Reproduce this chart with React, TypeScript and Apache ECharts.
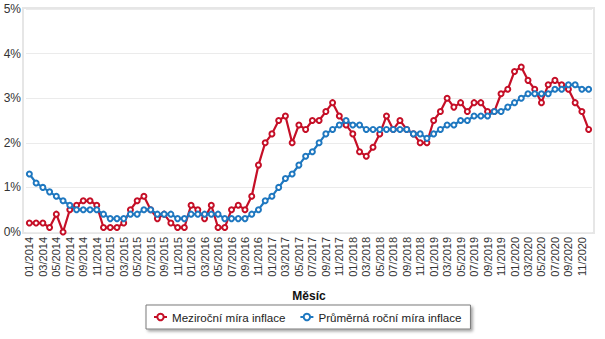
import React, { useEffect, useRef } from "react";
import * as echarts from "echarts";

const years = [2014, 2015, 2016, 2017, 2018, 2019, 2020];
const months = ["01", "02", "03", "04", "05", "06", "07", "08", "09", "10", "11", "12"];
const categories: string[] = [];
years.forEach((y) => months.forEach((m) => categories.push(`${m}/${y}`)));

const yoyInflation = [
  0.2, 0.2, 0.2, 0.1, 0.4, 0.0, 0.5, 0.6, 0.7, 0.7, 0.6, 0.1,
  0.1, 0.1, 0.2, 0.5, 0.7, 0.8, 0.5, 0.3, 0.4, 0.2, 0.1, 0.1,
  0.6, 0.5, 0.3, 0.6, 0.1, 0.1, 0.5, 0.6, 0.5, 0.8, 1.5, 2.0,
  2.2, 2.5, 2.6, 2.0, 2.4, 2.3, 2.5, 2.5, 2.7, 2.9, 2.6, 2.4,
  2.2, 1.8, 1.7, 1.9, 2.2, 2.6, 2.3, 2.5, 2.3, 2.2, 2.0, 2.0,
  2.5, 2.7, 3.0, 2.8, 2.9, 2.7, 2.9, 2.9, 2.7, 2.7, 3.1, 3.2,
  3.6, 3.7, 3.4, 3.2, 2.9, 3.3, 3.4, 3.3, 3.2, 2.9, 2.7, 2.3,
];

const avgInflation = [
  1.3, 1.1, 1.0, 0.9, 0.8, 0.7, 0.6, 0.5, 0.5, 0.5, 0.5, 0.4,
  0.3, 0.3, 0.3, 0.4, 0.4, 0.5, 0.5, 0.4, 0.4, 0.4, 0.3, 0.3,
  0.4, 0.4, 0.4, 0.4, 0.4, 0.3, 0.3, 0.3, 0.3, 0.4, 0.5, 0.7,
  0.8, 1.0, 1.2, 1.3, 1.5, 1.7, 1.8, 2.0, 2.2, 2.3, 2.4, 2.5,
  2.4, 2.4, 2.3, 2.3, 2.3, 2.3, 2.3, 2.3, 2.3, 2.2, 2.2, 2.1,
  2.2, 2.3, 2.4, 2.4, 2.5, 2.5, 2.6, 2.6, 2.6, 2.7, 2.7, 2.8,
  2.9, 3.0, 3.1, 3.1, 3.1, 3.1, 3.2, 3.2, 3.3, 3.3, 3.2, 3.2,
];

const seriesNames = ["Meziroční míra inflace", "Průměrná roční míra inflace"];
const xAxisName = "Měsíc";

const RED = "#c50f27";
const BLUE = "#1f78c0";
const FONT = "'Liberation Sans', Arial, sans-serif";

export default function App() {
  const ref = useRef<HTMLDivElement>(null);
  useEffect(() => {
    if (!ref.current) return;
    const chart = echarts.init(ref.current, null, { renderer: "svg" });
    chart.setOption({
      animation: false,
      backgroundColor: "#fff",
      textStyle: { fontFamily: FONT },
      graphic: [
        {
          type: "rect",
          z: -10,
          silent: true,
          shape: { x: 23, y: 8, width: 571, height: 225 },
          style: { fill: "none", stroke: "#e6e6e6", lineWidth: 2 },
        },
      ],
      grid: { left: 26, right: 13, top: 9, bottom: 107 },
      xAxis: {
        type: "category",
        data: categories,
        boundaryGap: true,
        axisLine: { show: false },
        axisTick: { show: false },
        axisLabel: {
          rotate: 90,
          interval: 1,
          margin: 5,
          fontSize: 11,
          color: "#333",
          fontFamily: FONT,
        },
        name: xAxisName,
        nameLocation: "middle",
        nameGap: 58,
        nameTextStyle: { fontWeight: "bold", fontSize: 12, color: "#111", fontFamily: FONT },
      },
      yAxis: {
        type: "value",
        min: 0,
        max: 5,
        interval: 1,
        axisLine: { show: false },
        axisTick: { show: false },
        axisLabel: {
          formatter: "{value}%",
          fontSize: 12,
          color: "#333",
          margin: 5,
          fontFamily: FONT,
        },
        splitLine: { lineStyle: { color: "#ebebeb", width: 1 } },
      },
      legend: {
        top: 305,
        left: 146,
        data: seriesNames,
        backgroundColor: "#fff",
        borderColor: "#7a7a7a",
        borderWidth: 1,
        padding: [6, 9, 6, 7],
        itemGap: 14,
        itemWidth: 13,
        itemHeight: 8,
        shadowColor: "rgba(0,0,0,0.35)",
        shadowBlur: 3,
        shadowOffsetX: 2,
        shadowOffsetY: 2,
        textStyle: { fontSize: 11.6, color: "#222", fontFamily: FONT },
      },
      series: [
        {
          name: seriesNames[0],
          type: "line",
          data: yoyInflation,
          symbol: "emptyCircle",
          symbolSize: 5,
          showSymbol: true,
          showAllSymbol: true,
          itemStyle: { color: RED, borderWidth: 1.2 },
          lineStyle: { color: RED, width: 2.2 },
          z: 3,
        },
        {
          name: seriesNames[1],
          type: "line",
          data: avgInflation,
          symbol: "emptyCircle",
          symbolSize: 5,
          showSymbol: true,
          showAllSymbol: true,
          itemStyle: { color: BLUE, borderWidth: 1.2 },
          lineStyle: { color: BLUE, width: 2.2 },
          z: 4,
        },
      ],
    });
    return () => chart.dispose();
  }, []);
  return (
    <div
      ref={ref}
      style={{ position: "fixed", left: 0, top: 0, width: 605, height: 339 }}
    />
  );
}
